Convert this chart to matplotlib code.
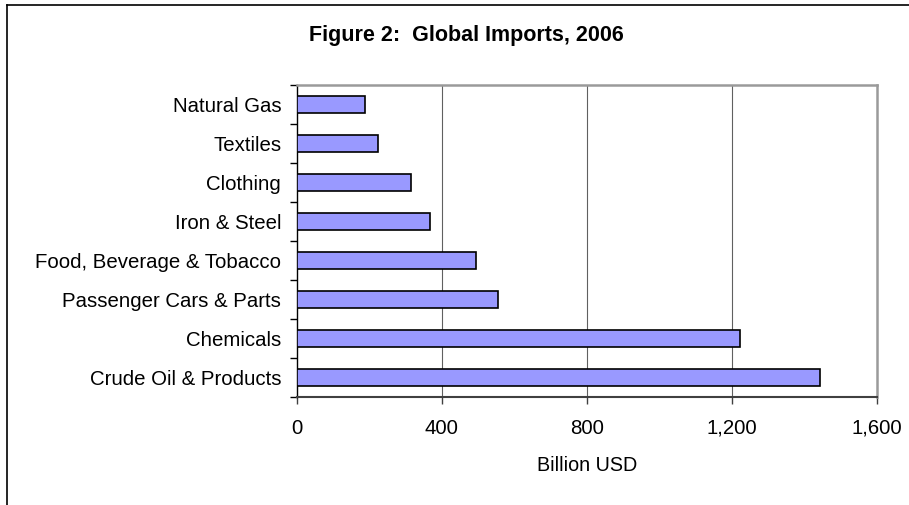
import matplotlib
matplotlib.use("Agg")
import matplotlib.pyplot as plt
from matplotlib.lines import Line2D
from matplotlib.ticker import FuncFormatter, FixedLocator
import numpy as np

plt.rcParams['font.family'] = ['Liberation Sans', 'DejaVu Sans']

categories = ["Crude Oil & Products", "Chemicals", "Passenger Cars & Parts",
              "Food, Beverage & Tobacco", "Iron & Steel", "Clothing",
              "Textiles", "Natural Gas"]
values = [1444, 1222, 556, 494, 368, 315, 226, 190]
x_ticks = [0, 400, 800, 1200, 1600]
title = "Figure 2:  Global Imports, 2006"
xlabel = "Billion USD"

fig = plt.figure(figsize=(9.09, 5.05), dpi=100)
ax = fig.add_axes([296.5/909, 1-397/505, (877-296.5)/909, (397-85)/505])

y = np.arange(len(categories))
ax.barh(y, values, height=0.43, color="#9999FF", edgecolor="black",
        linewidth=1.2, zorder=3)

ax.set_xlim(0, 1600)
ax.set_ylim(-0.5, len(categories) - 0.5)
ax.set_xticks(x_ticks)
ax.xaxis.set_major_formatter(FuncFormatter(lambda v, p: f"{int(v):,}"))
ax.set_yticks(y)
ax.set_yticklabels(categories)
ax.yaxis.set_minor_locator(FixedLocator(np.arange(-0.5, len(categories), 1.0)))

ax.tick_params(axis='y', which='major', length=0, pad=11, labelsize=14.7)
ax.tick_params(axis='y', which='minor', length=5, width=1, direction='out', color='black')
ax.tick_params(axis='x', which='major', length=5, width=1, direction='out', pad=10.5,
               labelsize=14.7, color='#404040')

for xv in x_ticks[1:-1]:
    ax.axvline(xv, color='#606060', linewidth=0.8, zorder=1)

ax.spines['left'].set_color('black')
ax.spines['left'].set_linewidth(1.0)
ax.spines['bottom'].set_color('#404040')
ax.spines['bottom'].set_linewidth(1.5)
ax.spines['top'].set_color('#9a9a9a')
ax.spines['top'].set_linewidth(1.8)
ax.spines['right'].set_color('#9a9a9a')
ax.spines['right'].set_linewidth(1.8)

ax.set_xlabel(xlabel, fontsize=14.2, labelpad=13)

fig.text(466/909, 1-35/505, title, ha='center', va='center',
         fontsize=15.5, fontweight='bold')

# outer chart border (left and top edges visible)
fig.add_artist(Line2D([7.5/909, 7.5/909], [0, 1-5/505], color='black',
                      linewidth=1.2, transform=fig.transFigure))
fig.add_artist(Line2D([7.5/909, 1], [1-5/505, 1-5/505], color='black',
                      linewidth=1.2, transform=fig.transFigure))

fig.savefig("out.png", dpi=100)
